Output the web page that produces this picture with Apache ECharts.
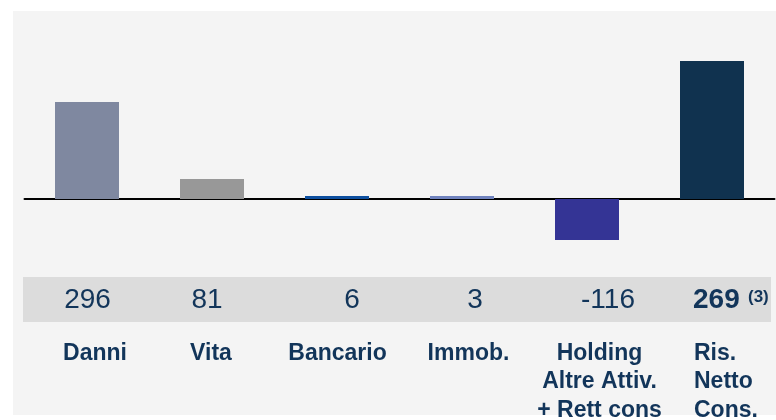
<!DOCTYPE html>
<html>
<head>
<meta charset="utf-8">
<script src="https://cdn.jsdelivr.net/npm/echarts@6/dist/echarts.min.js"></script>
<style>
html,body{margin:0;padding:0;background:#ffffff;}
#main{width:776px;height:420px;}
</style>
</head>
<body>
<div id="main"></div>
<script>
// ---- data ----
const categories = ['Danni', 'Vita', 'Bancario', 'Immob.', 'Holding\nAltre Attiv.\n+ Rett cons', 'Ris.\nNetto\nCons.'];
// bar heights as drawn in the picture (chart units, Danni = 296)
const barValues = [296, 61, 9, 9, -125, 421];
// value row printed under the chart
const valueLabels = ['296', '81', '6', '3', '-116', '269'];
const footnoteMark = '(3)';

// ---- styles / layout ----
const barColors = ['#7f88a0', '#989898', '#0d4f9f', '#6f82bd', '#343495', '#10324f'];
const textColor = '#12355a';
const valueDx = [0.5, -5, 15, 13, 21, -19];
const nameDx = [8, -1, 0.5, 6.5, 12.5, -18];
const FONT = '"Liberation Sans", Arial, Helvetica, sans-serif';

const chart = echarts.init(document.getElementById('main'), null, {renderer: 'canvas'});

chart.setOption({
  backgroundColor: '#ffffff',
  animation: false,
  grid: {left: 24.5, right: 1.5, top: 40, bottom: 160, containLabel: false},
  xAxis: {
    type: 'category',
    data: categories,
    axisLine: {show: true, onZero: true, lineStyle: {color: '#000000', width: 2}},
    axisTick: {show: false},
    axisLabel: {show: false},
    splitLine: {show: false}
  },
  yAxis: {
    type: 'value',
    min: -186,
    max: 485,
    show: false,
    splitLine: {show: false}
  },
  series: [{
    type: 'bar',
    barWidth: 64,
    z: 5,
    data: barValues.map((v, i) => ({value: v, itemStyle: {color: barColors[i]}}))
  }]
});

function build() {
  const els = [];
  els.push({type: 'rect', z: -10, silent: true, shape: {x: 13, y: 11, width: 763, height: 404}, style: {fill: '#f4f4f4'}});
  els.push({type: 'rect', z: -9, silent: true, shape: {x: 23, y: 277, width: 748, height: 45}, style: {fill: '#dcdcdc'}});
  categories.forEach((c, i) => {
    const cx = chart.convertToPixel({xAxisIndex: 0}, i);
    const last = i === categories.length - 1;
    if (last) {
      els.push({type: 'text', z: 10, silent: true, x: cx + valueDx[i], y: 300,
        style: {text: valueLabels[i], fontSize: 28, fontWeight: 'bold', fontFamily: FONT, fill: textColor, align: 'left', verticalAlign: 'middle'}});
      els.push({type: 'text', z: 10, silent: true, x: cx + valueDx[i] + 55, y: 297,
        style: {text: footnoteMark, fontSize: 17, fontWeight: 'bold', fontFamily: FONT, fill: textColor, align: 'left', verticalAlign: 'middle'}});
    } else {
      els.push({type: 'text', z: 10, silent: true, x: cx + valueDx[i], y: 300,
        style: {text: valueLabels[i], fontSize: 28, fontFamily: FONT, fill: textColor, align: 'center', verticalAlign: 'middle'}});
    }
    els.push({type: 'text', z: 10, silent: true, x: cx + nameDx[i], y: 339,
      style: {text: c, fontSize: 23, fontWeight: 'bold', fontFamily: FONT, fill: textColor,
        align: last ? 'left' : 'center', verticalAlign: 'top', lineHeight: 28.5}});
  });
  chart.setOption({graphic: {elements: els}});
}
build();
</script>
</body>
</html>
